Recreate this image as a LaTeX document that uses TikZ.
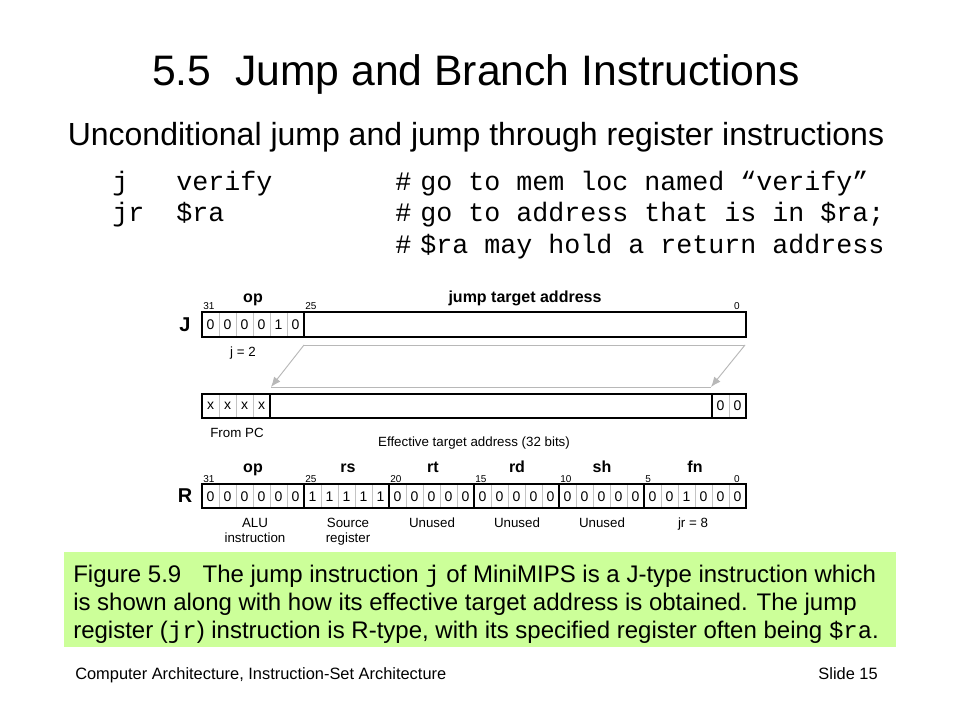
\documentclass[tikz,border=0pt]{standalone}
\usepackage{fontspec}
\setmainfont{Liberation Sans}
\setmonofont{Liberation Mono}
\usetikzlibrary{arrows.meta,fit}
\definecolor{capgreen}{HTML}{CCFF99}
\definecolor{arrgray}{HTML}{B8B8B8}
\definecolor{cellgray}{HTML}{C4C4C4}
\begin{document}
\begin{tikzpicture}[x=0.75pt,y=-0.75pt,
  field/.style={draw=black,line width=1.6pt,inner sep=0pt},
  cellline/.style={draw=cellgray,line width=0.7pt},
  bitval/.style={font=\fontsize{10.5}{12}\selectfont,inner sep=0pt},
  bitnum/.style={font=\fontsize{7.5}{9}\selectfont,inner sep=0pt,anchor=base west},
  fieldname/.style={font=\fontsize{12}{14}\selectfont\bfseries,inner sep=0pt,anchor=base},
  rowlabel/.style={font=\fontsize{15}{17}\selectfont\bfseries,inner sep=0pt},
  smalllabel/.style={font=\fontsize{10}{12}\selectfont,inner sep=0pt,anchor=base},
  codetext/.style={font=\fontsize{20}{24}\selectfont\ttfamily,inner sep=0pt,anchor=base west},
  captext/.style={font=\fontsize{18}{21}\selectfont,inner sep=0pt,anchor=base west},
  footer/.style={font=\fontsize{12.3}{14}\selectfont,inner sep=0pt},
  movearrow/.style={draw=arrgray,line width=0.7pt,-{Latex[length=7.5pt,width=6pt]}},
  moveline/.style={draw=arrgray,line width=0.7pt}
]
\useasboundingbox (0,0) rectangle (960,720);
\fill[white] (0,0) rectangle (960,720);

% Title and subtitle
\node[font=\fontsize{32}{38}\selectfont,inner sep=0pt,anchor=base] (title) at (476,86) {5.5\ \ Jump and Branch Instructions};
\node[font=\fontsize{24}{28}\selectfont,inner sep=0pt,anchor=base] (subtitle) at (476,146) {Unconditional jump and jump through register instructions};

% Code lines
\node[codetext] (c1a) at (112,191) {j};
\node[codetext] (c1b) at (176,191) {verify};
\node[codetext] (c1h) at (395,191) {\#};
\node[codetext] (c1c) at (420,191) {go to mem loc named “verify”};
\node[codetext] (c2a) at (112,222) {jr};
\node[codetext] (c2b) at (176,222) {\$ra};
\node[codetext] (c2h) at (395,222) {\#};
\node[codetext] (c2c) at (420,222) {go to address that is in \$ra;};
\node[codetext] (c3h) at (395,254) {\#};
\node[codetext] (c3c) at (420,254) {\$ra may hold a return address};

% ---------------- J format ----------------
\foreach \i in {1,...,5} \draw[cellline] (202+17*\i,312) -- (202+17*\i,337);
\node[field,fit={(202,312) (304,337)}] (jop) {};
\node[field,fit={(304,312) (746,337)}] (jaddr) {};
\foreach \b [count=\i] in {0,0,0,0,1,0}
  \node[bitval] (jb\i) at (202+17*\i-8.5,325) {\b};
\node[rowlabel] (jlabel) at (185,325) {J};
\node[fieldname] (jopname) at (253,302) {op};
\node[fieldname] (jaddrname) at (525,302) {jump target address};
\node[bitnum] (jn31) at (203,310) {31};
\node[bitnum] (jn25) at (305,310) {25};
\node[bitnum,anchor=base east] (jn0) at (740,310) {0};
\node[smalllabel] (jeq) at (243,356) {j = 2};

% ---------------- Effective address ----------------
\foreach \i in {1,2,3,31} \draw[cellline] (202+17*\i,394) -- (202+17*\i,418);
\node[field,fit={(202,394) (270,418)}] (epc) {};
\node[field,fit={(270,394) (712,418)}] (emid) {};
\node[field,fit={(712,394) (746,418)}] (ezero) {};
\foreach \b [count=\i] in {x,x,x,x}
  \node[bitval] (eb\i) at (202+17*\i-8.5,406) {\b};
\node[bitval] (ez1) at (720.5,406) {0};
\node[bitval] (ez2) at (737.5,406) {0};
\node[smalllabel] (frompc) at (237,437) {From PC};
\node[smalllabel] (efflabel) at (474,446) {Effective target address (32 bits)};

% Transfer arrows
\coordinate (aTL) at (304,345);
\coordinate (aTR) at (745,345);
\coordinate (aBL) at (271,387);
\coordinate (aBR) at (711,387);
\draw[moveline] (aTL) -- (aTR);
\draw[moveline] (aBL) -- (aBR);
\draw[movearrow] (aTL) -- (aBL);
\draw[movearrow] (aTR) -- (aBR);

% ---------------- R format ----------------
\foreach \i in {1,...,31} \draw[cellline] (202+17*\i,484) -- (202+17*\i,508);
\node[field,fit={(202,484) (304,508)}] (rop) {};
\node[field,fit={(304,484) (389,508)}] (rrs) {};
\node[field,fit={(389,484) (474,508)}] (rrt) {};
\node[field,fit={(474,484) (559,508)}] (rrd) {};
\node[field,fit={(559,484) (644,508)}] (rsh) {};
\node[field,fit={(644,484) (746,508)}] (rfn) {};
\foreach \b [count=\i] in {0,0,0,0,0,0,1,1,1,1,1,0,0,0,0,0,0,0,0,0,0,0,0,0,0,0,0,0,1,0,0,0}
  \node[bitval] (rb\i) at (202+17*\i-8.5,497) {\b};
\node[rowlabel] (rlabel) at (185,496) {R};
\node[fieldname] (ropname) at (253,472) {op};
\node[fieldname] (rrsname) at (348,472) {rs};
\node[fieldname] (rrtname) at (433,472) {rt};
\node[fieldname] (rrdname) at (517,472) {rd};
\node[fieldname] (rshname) at (602,472) {sh};
\node[fieldname] (rfnname) at (695,472) {fn};
\node[bitnum] (rn31) at (203,482) {31};
\node[bitnum] (rn25) at (305,482) {25};
\node[bitnum] (rn20) at (390,482) {20};
\node[bitnum] (rn15) at (475,482) {15};
\node[bitnum] (rn10) at (560,482) {10};
\node[bitnum] (rn5) at (645,482) {5};
\node[bitnum,anchor=base east] (rn0) at (740,482) {0};
\node[smalllabel] (ropd1) at (255,527) {ALU};
\node[smalllabel] (ropd2) at (255,542) {instruction};
\node[smalllabel] (rrsd1) at (348,527) {Source};
\node[smalllabel] (rrsd2) at (348,542) {register};
\node[smalllabel] (rrtd) at (432,527) {Unused};
\node[smalllabel] (rrdd) at (517,527) {Unused};
\node[smalllabel] (rshd) at (602,527) {Unused};
\node[smalllabel] (rfnd) at (693,527) {jr = 8};

% ---------------- Caption ----------------
\node[fill=capgreen,inner sep=0pt,fit={(64,552) (896,647)}] (capbox) {};
\node[captext] (cap1) at (73,582) {Figure 5.9\hspace{16pt}The jump instruction \texttt{j} of MiniMIPS is a J-type instruction which};
\node[captext] (cap2) at (73,610) {is shown along with how its effective target address is obtained. The jump};
\node[captext] (cap3) at (73,638) {register (\texttt{jr}) instruction is R-type, with its specified register often being \texttt{\$ra}.};

% ---------------- Footer ----------------
\node[footer,anchor=base west] (foot1) at (75,679) {Computer Architecture, Instruction-Set Architecture};
\node[footer,anchor=base east] (foot2) at (878,679) {Slide 15};
\end{tikzpicture}
\end{document}
